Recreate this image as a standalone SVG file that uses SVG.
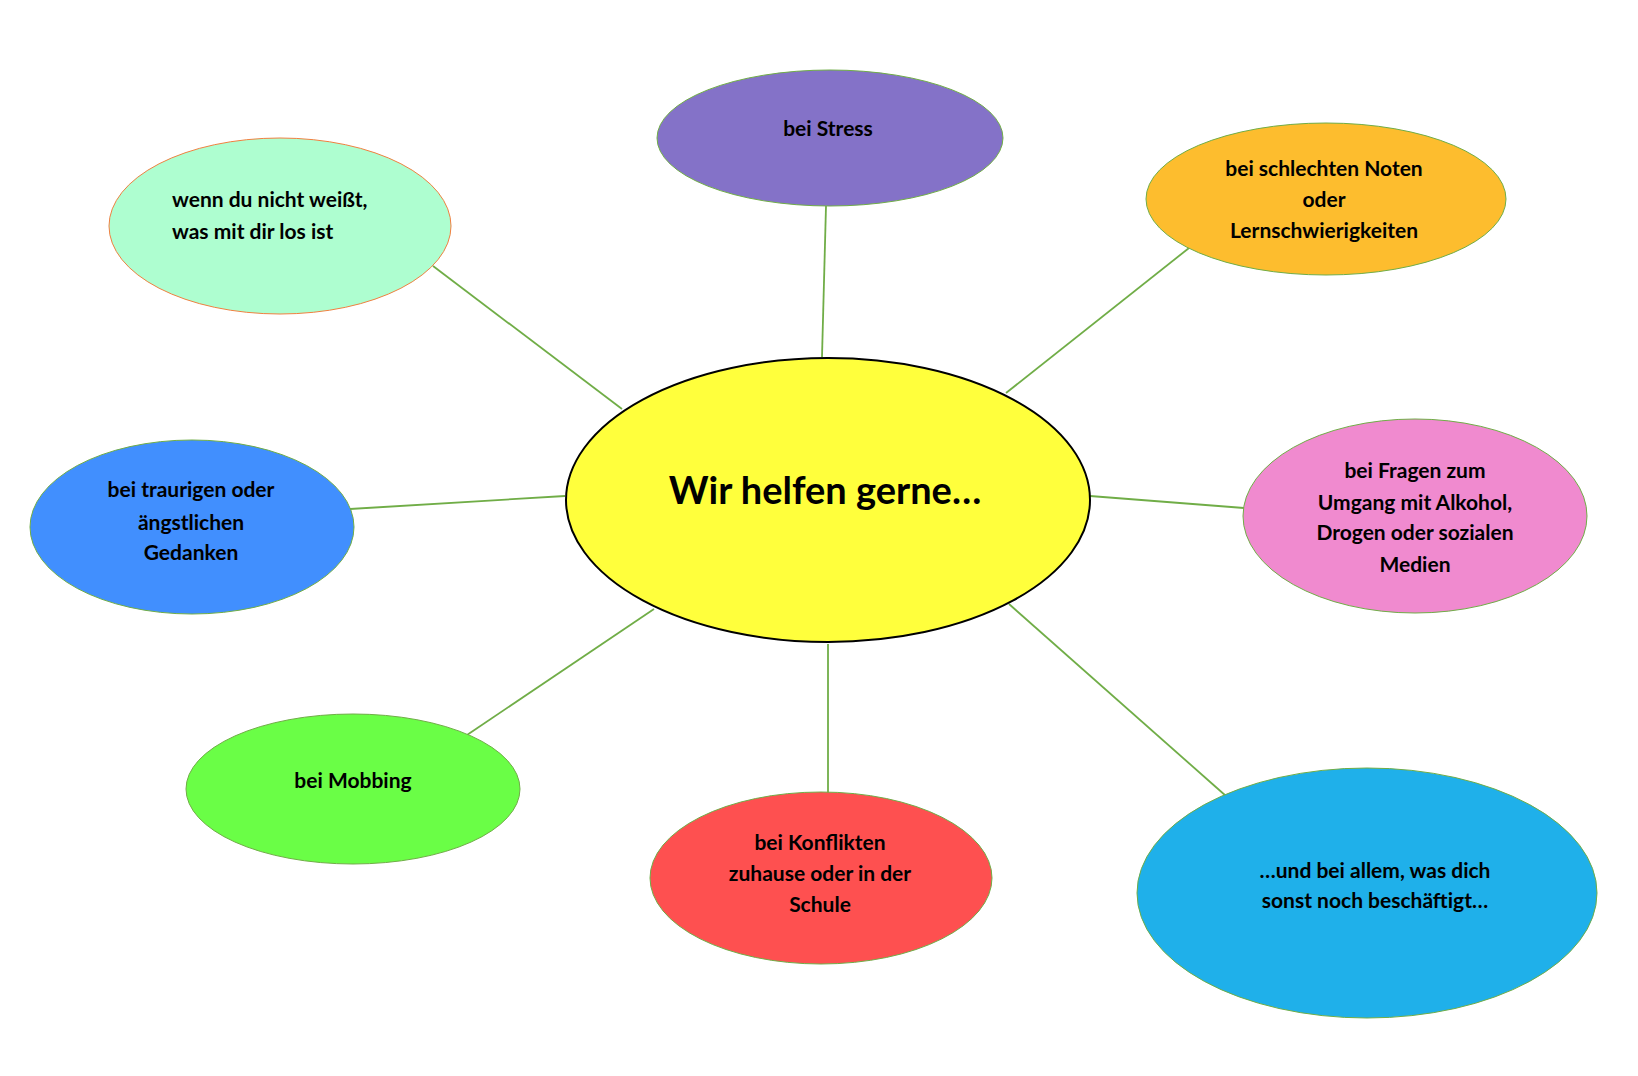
<svg xmlns="http://www.w3.org/2000/svg" width="1638" height="1076" viewBox="0 0 1638 1076">
<style>
.t{font-family:Lato,"Open Sans",sans-serif;font-weight:bold;font-size:21px;fill:#000;text-anchor:middle}
.n{stroke:#70ad47;stroke-width:1}
#conn line{stroke:#70ad47;stroke-width:1.8}
</style>
<rect width="1638" height="1076" fill="#fff"/>
<g id="conn">
<line x1="826" y1="206" x2="822" y2="357"/>
<line x1="1189" y1="248" x2="1006" y2="393"/>
<line x1="1090" y1="496" x2="1244" y2="508"/>
<line x1="1009" y1="604" x2="1226" y2="796"/>
<line x1="828" y1="644" x2="828" y2="794"/>
<line x1="654" y1="609" x2="467" y2="735"/>
<line x1="565" y1="496" x2="350" y2="509"/>
<line x1="622" y1="409" x2="433" y2="266"/>
</g>
<g id="center"><ellipse cx="828" cy="500" rx="262" ry="142" fill="#ffff3c" stroke="#000" stroke-width="2"/>
<text x="825" y="504" class="t" style="font-size:38px">Wir helfen gerne…</text></g>
<g id="stress"><ellipse class="n" cx="830" cy="138" rx="173" ry="68" fill="#8472c8"/>
<text x="828" y="136" class="t">bei Stress</text></g>
<g id="noten"><ellipse class="n" cx="1326" cy="199" rx="180" ry="76" fill="#fdbd2e"/>
<text class="t" x="1324" y="176">bei schlechten Noten</text><text class="t" x="1324" y="207">oder</text><text class="t" x="1324" y="238">Lernschwierigkeiten</text></g>
<g id="fragen"><ellipse class="n" cx="1415" cy="516" rx="172" ry="97" fill="#f08acf"/>
<text class="t" x="1415" y="478">bei Fragen zum</text><text class="t" x="1415" y="510">Umgang mit Alkohol,</text><text class="t" x="1415" y="540">Drogen oder sozialen</text><text class="t" x="1415" y="572">Medien</text></g>
<g id="allem"><ellipse class="n" cx="1367" cy="893" rx="230" ry="125" fill="#1fb0ea"/>
<text class="t" x="1375" y="878">…und bei allem, was dich</text><text class="t" x="1375" y="908">sonst noch beschäftigt…</text></g>
<g id="konflikte"><ellipse class="n" cx="821" cy="878" rx="171" ry="86" fill="#fe5050"/>
<text class="t" x="820" y="850">bei Konflikten</text><text class="t" x="820" y="881">zuhause oder in der</text><text class="t" x="820" y="912">Schule</text></g>
<g id="mobbing"><ellipse class="n" cx="353" cy="789" rx="167" ry="75" fill="#6afe46"/>
<text class="t" x="353" y="788">bei Mobbing</text></g>
<g id="traurig"><ellipse class="n" cx="192" cy="527" rx="162" ry="87" fill="#418ffe"/>
<text class="t" x="191" y="497">bei traurigen oder</text><text class="t" x="191" y="530">ängstlichen</text><text class="t" x="191" y="560">Gedanken</text></g>
<g id="wenn"><ellipse cx="280" cy="226" rx="171" ry="88" fill="#aefed0" stroke="#f08040" stroke-width="1"/>
<text class="t" x="172" y="207" style="text-anchor:start">wenn du nicht weißt,</text><text class="t" x="172" y="239" style="text-anchor:start">was mit dir los ist</text></g>
</svg>
